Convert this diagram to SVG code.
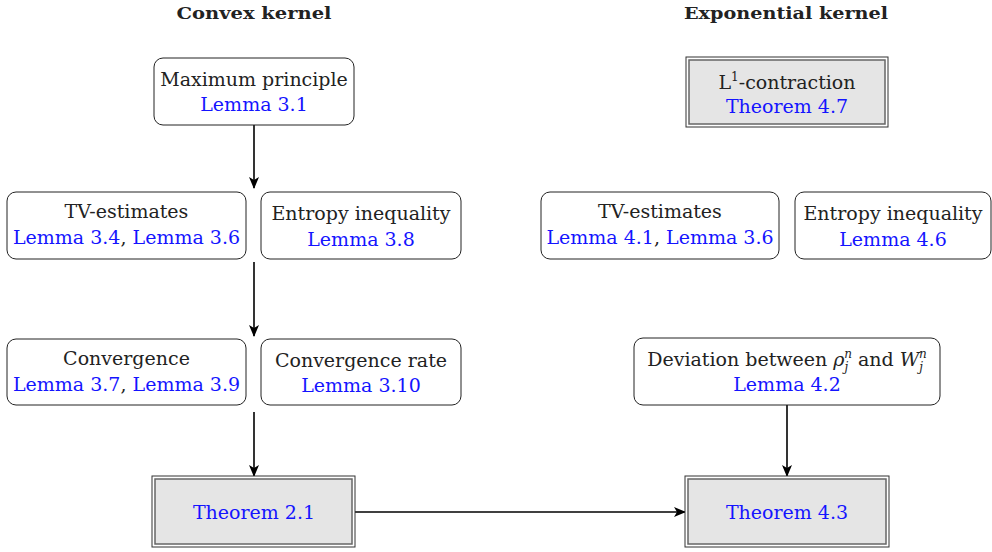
<svg xmlns="http://www.w3.org/2000/svg" width="992" height="552" viewBox="0 0 992 552" font-family="'DejaVu Serif', serif">
<style>
text{font-family:'DejaVu Serif','Liberation Serif',serif;font-size:19px;fill:#222;text-anchor:middle}
.h{font-weight:bold;font-size:17px}
.b{fill:#1414ff}
.i{font-style:italic}
.s{font-size:12px}
.box{fill:#fff;stroke:#222;stroke-width:1}
.dbo{fill:#fff;stroke:#333;stroke-width:1}
.dbi{fill:#e5e5e5;stroke:#666;stroke-width:1.5}
.c{fill:none;stroke:#000;stroke-width:1.6}
</style>
<defs>
<marker id="ah" viewBox="0 0 12 10" refX="11" refY="5" markerWidth="12" markerHeight="10" markerUnits="userSpaceOnUse" orient="auto">
<path d="M0,0 L12,5 L0,10 L3,5 Z" fill="#000"/>
</marker>
</defs>
<text class="h" x="254" y="19" textLength="155" lengthAdjust="spacingAndGlyphs">Convex kernel</text>
<text class="h" x="786" y="19" textLength="204" lengthAdjust="spacingAndGlyphs">Exponential kernel</text>

<g id="connectors">
<line class="c" x1="254" y1="125" x2="254" y2="188" marker-end="url(#ah)"/>
<line class="c" x1="254" y1="262" x2="254" y2="336" marker-end="url(#ah)"/>
<line class="c" x1="254" y1="412" x2="254" y2="476" marker-end="url(#ah)"/>
<line class="c" x1="787" y1="405" x2="787" y2="476" marker-end="url(#ah)"/>
<line class="c" x1="355" y1="512" x2="685" y2="512" marker-end="url(#ah)"/>
</g>

<g id="maxp">
<rect class="box" x="154" y="58" width="200" height="67" rx="9"/>
<text x="254" y="86">Maximum principle</text>
<text class="b" x="254" y="111">Lemma 3.1</text>
</g>

<g id="l1c">
<rect class="dbo" x="686" y="57" width="202" height="70"/>
<rect class="dbi" x="689" y="60" width="196" height="64"/>
<text x="787" y="89">L<tspan class="s" dy="-8">1</tspan><tspan dy="8">-contraction</tspan></text>
<text class="b" x="787" y="113">Theorem 4.7</text>
</g>

<g id="tv1">
<rect class="box" x="7" y="192" width="239" height="67" rx="9"/>
<text x="126.5" y="218">TV-estimates</text>
<text x="126.5" y="244"><tspan class="b">Lemma 3.4</tspan>, <tspan class="b">Lemma 3.6</tspan></text>
</g>

<g id="ent1">
<rect class="box" x="261" y="192" width="200" height="67" rx="9"/>
<text x="361" y="220">Entropy inequality</text>
<text class="b" x="361" y="246">Lemma 3.8</text>
</g>

<g id="tv2">
<rect class="box" x="541" y="192" width="238" height="67" rx="9"/>
<text x="660" y="218">TV-estimates</text>
<text x="660" y="244"><tspan class="b">Lemma 4.1</tspan>, <tspan class="b">Lemma 3.6</tspan></text>
</g>

<g id="ent2">
<rect class="box" x="795" y="192" width="196" height="67" rx="9"/>
<text x="893" y="220">Entropy inequality</text>
<text class="b" x="893" y="246">Lemma 4.6</text>
</g>

<g id="conv">
<rect class="box" x="7" y="339" width="239" height="66" rx="9"/>
<text x="126.5" y="365">Convergence</text>
<text x="126.5" y="391"><tspan class="b">Lemma 3.7</tspan>, <tspan class="b">Lemma 3.9</tspan></text>
</g>

<g id="rate">
<rect class="box" x="261" y="339" width="200" height="66" rx="9"/>
<text x="361" y="367">Convergence rate</text>
<text class="b" x="361" y="392">Lemma 3.10</text>
</g>

<g id="dev">
<rect class="box" x="634" y="338" width="306" height="67" rx="9"/>
<text x="787" y="366">Deviation between <tspan class="i">ρ</tspan><tspan class="s i" dy="5">j</tspan><tspan class="s i" dx="-4" dy="-13">n</tspan><tspan dy="8"> and </tspan><tspan class="i">W</tspan><tspan class="s i" dy="5">j</tspan><tspan class="s i" dx="-4" dy="-13">n</tspan></text>
<text class="b" x="787" y="391">Lemma 4.2</text>
</g>

<g id="thm21">
<rect class="dbo" x="152" y="476" width="203" height="71"/>
<rect class="dbi" x="155" y="479" width="197" height="65"/>
<text class="b" x="254" y="519">Theorem 2.1</text>
</g>

<g id="thm43">
<rect class="dbo" x="685" y="476" width="204" height="71"/>
<rect class="dbi" x="688" y="479" width="198" height="65"/>
<text class="b" x="787" y="519">Theorem 4.3</text>
</g>
</svg>
